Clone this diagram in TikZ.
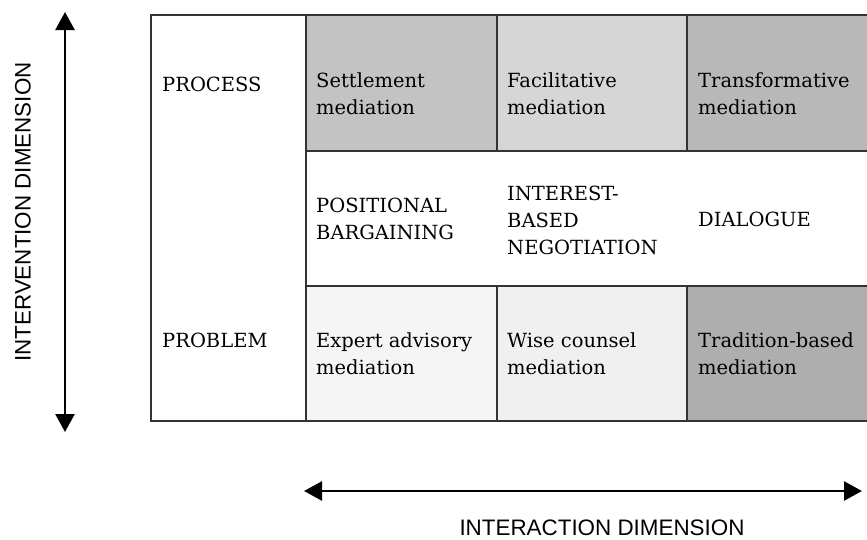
\documentclass[tikz,border=0pt]{standalone}
\usepackage{fontspec}
\setmainfont{DejaVu Serif}
\newfontfamily\axisfont{Liberation Sans}
\usetikzlibrary{arrows.meta}

\definecolor{settlegray}{HTML}{C3C3C3}
\definecolor{facilgray}{HTML}{D6D6D6}
\definecolor{transgray}{HTML}{B8B8B8}
\definecolor{expertgray}{HTML}{F5F5F5}
\definecolor{wisegray}{HTML}{F0F0F0}
\definecolor{tradgray}{HTML}{AEAEAE}

\tikzset{
  cellbox/.style={draw=black!80, line width=1.6pt, anchor=north west, inner sep=0pt},
  celltext/.style={anchor=base west, align=left, inner sep=0pt, font=\fontsize{19.5}{27}\selectfont},
  axislabel/.style={inner sep=0pt, font=\axisfont\fontsize{22.4}{26}\selectfont},
  dimarrow/.style={line width=2.6pt, {Triangle[length=18pt,width=19pt]}-{Triangle[length=18pt,width=19pt]}}
}

\begin{document}
\begin{tikzpicture}[x=1pt, y=-1pt]
\useasboundingbox (0,0) rectangle (867,539);
% table cells
\node[cellbox, minimum width=155pt, minimum height=406pt] (kind) at (150,14) {};
\node[cellbox, fill=settlegray, minimum width=191pt, minimum height=136pt] (settle) at (305,14) {};
\node[cellbox, fill=facilgray, minimum width=190pt, minimum height=136pt] (facil) at (496,14) {};
\node[cellbox, fill=transgray, minimum width=184pt, minimum height=136pt] (trans) at (686,14) {};
\node[cellbox, fill=expertgray, minimum width=191pt, minimum height=135pt] (expert) at (305,285) {};
\node[cellbox, fill=wisegray, minimum width=190pt, minimum height=135pt] (wise) at (496,285) {};
\node[cellbox, fill=tradgray, minimum width=184pt, minimum height=135pt] (trad) at (686,285) {};
% texts (base = last line)
\node[celltext] (process) at (162,91) {PROCESS};
\node[celltext] (problem) at (162,347) {PROBLEM};
\node[celltext] (settletxt) at (316,114) {Settlement\\mediation};
\node[celltext] (faciltxt) at (507,114) {Facilitative\\mediation};
\node[celltext] (transtxt) at (698,114) {Transformative\\mediation};
\node[celltext] (position) at (316,239) {POSITIONAL\\BARGAINING};
\node[celltext] (interest) at (507,254) {INTEREST-\\BASED\\NEGOTIATION};
\node[celltext] (dialogue) at (698,226) {DIALOGUE};
\node[celltext] (experttxt) at (316,374) {Expert advisory\\mediation};
\node[celltext] (wisetxt) at (507,374) {Wise counsel\\mediation};
\node[celltext] (tradtxt) at (698,374) {Tradition-based\\mediation};
% dimensions
\coordinate (vtop) at (65,12);
\coordinate (vbot) at (65,432);
\draw[dimarrow] (vtop) -- (vbot);
\node[axislabel, rotate=90] (vlabel) at (23,212) {INTERVENTION DIMENSION};
\coordinate (hleft) at (304,491);
\coordinate (hright) at (862,491);
\draw[dimarrow] (hleft) -- (hright);
\node[axislabel] (hlabel) at (602,528) {INTERACTION DIMENSION};
\end{tikzpicture}
\end{document}
